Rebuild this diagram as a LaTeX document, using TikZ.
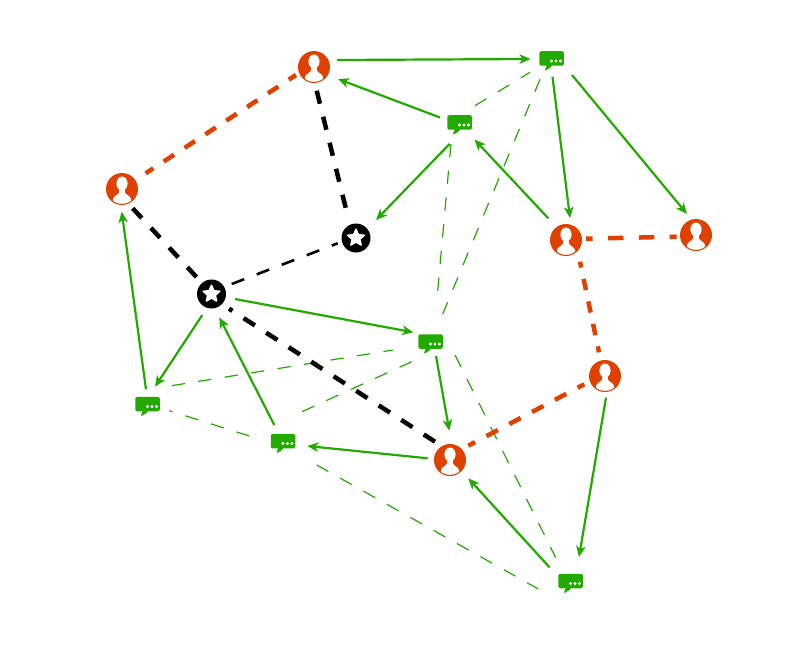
\documentclass[tikz,border=0pt]{standalone}
\usetikzlibrary{arrows.meta,calc}
\definecolor{grn}{HTML}{22AA00}
\definecolor{org}{HTML}{E04000}
\tikzset{
  x=1pt,y=-1pt,
  person/.style={circle,fill=org,inner sep=0pt,minimum size=32pt},
  starnode/.style={circle,fill=black,inner sep=0pt,minimum size=29pt},
  msg/.style={rectangle,fill=grn,rounded corners=1.5pt,inner sep=0pt,minimum width=24.5pt,minimum height=14.5pt},
  garrow/.style={draw=grn,line width=2.2pt,-{Stealth[length=11pt,width=9.5pt,inset=3pt]}},
  gdash/.style={draw=grn,line width=1.2pt,dash pattern=on 13.4pt off 13.4pt},
  bthick/.style={draw=black,line width=4.5pt,dash pattern=on 13.4pt off 13.4pt},
  bthin/.style={draw=black,line width=2.6pt,dash pattern=on 13.4pt off 13.4pt},
  othick/.style 2 args={draw=org,line width=4.5pt,dash pattern=on #1pt off #1pt,dash phase=#2pt},
}
\begin{document}
\begin{tikzpicture}
\useasboundingbox (0,0) rectangle (800,650);
% nodes
\node[person] (p1) at (314,67) {};
\node[person] (p2) at (122,189) {};
\node[person] (p3) at (566,240) {};
\node[person] (p4) at (696,235) {};
\node[person] (p5) at (605,376) {};
\node[person] (p6) at (450,460) {};
\node[starnode] (s1) at (356,238) {};
\node[starnode] (s2) at (211.5,294) {};
\node[msg] (m1) at (551.5,58.5) {};
\node[msg] (m2) at (459.5,122.5) {};
\node[msg] (m3) at (430.5,341.5) {};
\node[msg] (m4) at (147.5,404) {};
\node[msg] (m5) at (283,441) {};
\node[msg] (m6) at (570.5,581) {};
% person glyphs
\foreach \n in {p1,p2,p3,p4,p5,p6}{
  \begin{scope}[shift={(\n.center)}]
    \clip (0,0) circle (14.8);
    \fill[white] (0,-5.5) ellipse (5.6 and 7);
    \fill[white] (-2.5,-1) -- (2.5,-1) -- (3,3.5) .. controls (4,6) and (8.5,7) .. (9,10) -- (9,16) -- (-9,16) -- (-9,10) .. controls (-8.5,7) and (-4,6) .. (-3,3.5) -- cycle;
  \end{scope}
}
% star glyphs
\foreach \n in {s1,s2}{
  \fill[white,draw=white,line width=1.6pt,line join=round,shift={(\n.center)}]
    (-90:8.6) -- (-54:4) -- (-18:8.6) -- (18:4) -- (54:8.6) -- (90:4) -- (126:8.6) -- (162:4) -- (198:8.6) -- (234:4) -- cycle;
}
% message details
\foreach \n in {m1,m2,m3,m4,m5,m6}{
  \begin{scope}[shift={(\n.center)}]
    \fill[grn] (0.5,6) -- (-6.5,11.5) -- (-5.5,11.8) -- (-1,9) -- (1,6) -- cycle;
    \fill[grn] (-4.5,6) -- (-6.5,11.5) -- (0.5,7) -- cycle;
    \fill[white] (0,2.5) circle (1.6) (4.5,2.5) circle (1.6) (9,2.5) circle (1.6);
  \end{scope}
}
% green arrows
\draw[garrow] ($(p1)+(23,-7)$) -- ($(m1)+(-21,0.5)$);
\draw[garrow] ($(m2)+(-19.5,-5)$) -- ($(p1)+(24,12)$);
\draw[garrow] ($(m2)+(-10,21.5)$) -- ($(s1)+(20,-18)$);
\draw[garrow] ($(m1)+(1,18.2)$) -- ($(p3)+(4,-22)$);
\draw[garrow] ($(m1)+(20.5,16.5)$) -- ($(p4)+(-9,-21)$);
\draw[garrow] ($(p3)+(-17.7,-21.7)$) -- ($(m2)+(15,17)$);
\draw[garrow] ($(s2)+(23.5,5)$) -- ($(m3)+(-17.2,-9.2)$);
\draw[garrow] ($(m3)+(5.5,14.5)$) -- ($(p6)+(-0.7,-29.3)$);
\draw[garrow] ($(p6)+(-22.3,-1.7)$) -- ($(m5)+(24.3,5)$);
\draw[garrow] ($(m5)+(-8.7,-16)$) -- ($(s2)+(7.8,23.3)$);
\draw[garrow] ($(s2)+(-9.2,21)$) -- ($(m4)+(7.5,-17.3)$);
\draw[garrow] ($(m4)+(-1.5,-14.7)$) -- ($(p2)+(-0.3,22.7)$);
\draw[garrow] ($(p5)+(1,21.7)$) -- ($(m6)+(8.5,-24)$);
\draw[garrow] ($(m6)+(-21,-13.7)$) -- ($(p6)+(18.3,18.3)$);
% thin green dashed
\draw[gdash] ($(m2)+(15.5,-16.8)$) -- ($(m1)+(-21.5,13.8)$);
\draw[gdash] ($(m3)+(7.2,-50.8)$) -- ($(m2)+(-8.5,20.8)$);
\draw[gdash] ($(m1)+(-11.5,20.8)$) -- ($(m3)+(12.2,-27.5)$);
\draw[gdash] ($(m4)+(24.2,-18.3)$) -- ($(m3)+(-37.5,8.5)$);
\draw[gdash] ($(m5)+(19,-29.3)$) -- ($(m3)+(-18.8,20.2)$);
\draw[gdash] ($(m5)+(-33.7,-5)$) -- ($(m4)+(21.8,6.7)$);
\draw[gdash] ($(m3)+(24.5,13.5)$) -- ($(m6)+(-14.8,-23.3)$);
\draw[gdash] ($(m5)+(33.7,24)$) -- ($(m6)+(-32.2,8)$);
% black dashed
\draw[bthick] ($(p1)+(2.7,23.7)$) -- ($(s1)+(-10,-29)$);
\draw[bthick] ($(p2)+(10.7,19.3)$) -- ($(s2)+(-14.8,-16.7)$);
\draw[bthick] ($(p6)+(-15,-18.3)$) -- ($(s2)+(17.5,14.7)$);
\draw[bthin] ($(s2)+(20.2,-10)$) -- ($(s1)+(-18.3,5.3)$);
% orange dashed
\draw[othick={12.45}{3.8}] ($(p1)+(-18,8)$) -- ($(p2)+(23.7,-15.7)$);
\draw[othick={15.4}{8.7}] ($(p3)+(20,-1.3)$) -- ($(p4)+(-19.3,1.7)$);
\draw[othick={11.5}{5.5}] ($(p3)+(14,21.7)$) -- ($(p5)+(-6,-23.7)$);
\draw[othick={12.9}{5.4}] ($(p5)+(-20.7,8.3)$) -- ($(p6)+(18.3,-14.3)$);
\end{tikzpicture}
\end{document}
